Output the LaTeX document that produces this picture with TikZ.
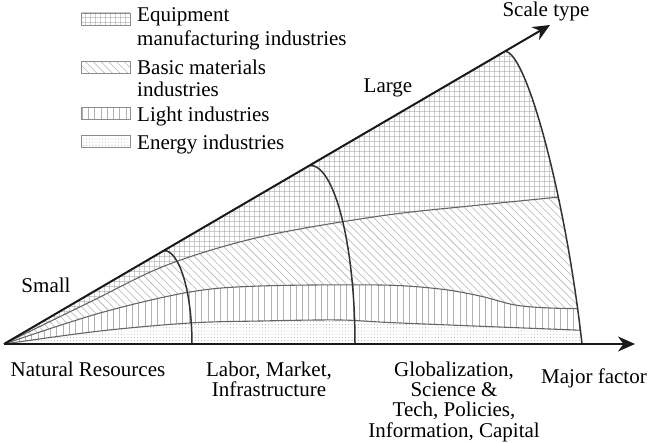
\documentclass[tikz,border=0pt]{standalone}
\usepackage{fontspec}
\setmainfont{Liberation Serif}
\usetikzlibrary{patterns.meta,arrows.meta,calc}
\begin{document}
\begin{tikzpicture}[x=1pt,y=-1pt,
  txt/.style={font=\fontsize{21}{21}\selectfont, inner sep=0pt},
  pEquip/.style={pattern={Hatch[angle=0,distance=5.4pt,line width=0.55pt]}, pattern color=black!30},
  pBasic/.style={pattern={Lines[angle=-45,distance=5.5pt,line width=0.55pt]}, pattern color=black!30},
  pLight/.style={pattern={Lines[angle=90,distance=6.3pt,line width=0.6pt]}, pattern color=black!30},
  pEnergy/.style={pattern={Dots[distance=3.2pt,radius=0.45pt]}, pattern color=black!40},
  bandline/.style={draw=black!60, line width=1.1pt},
  arcline/.style={draw=black!80, line width=1.5pt},
  axisline/.style={draw=black!90, line width=2pt, -{Stealth[length=17pt,width=15pt]}},
  legbox/.style={draw=black!45, line width=0.6pt, minimum width=49pt, minimum height=12pt, inner sep=0pt}
]
\useasboundingbox (0,0) rectangle (650,443);

\coordinate (O) at (4,344);
\coordinate (Y) at (550,25);
\coordinate (X) at (635,344);
\coordinate (T1) at ($(O)!0.293!(Y)$);
\coordinate (T2) at ($(O)!0.5604!(Y)$);
\coordinate (T3) at ($(O)!0.9176!(Y)$);
\coordinate (B1) at (192,344);
\coordinate (B2) at (355,344);
\coordinate (B3) at (582,344);

% bands
\begin{scope}
\clip (O) -- (T3) .. controls (527,52) and (566,200) .. (B3) -- cycle;
\fill[white] (0,0) rectangle (650,443);
\fill[pEquip] (0,0) rectangle (650,443);
\fill[white] plot[smooth,tension=0.55] coordinates {(4,344) (90,302) (167,265) (260,237) (380,216) (480,205) (600,193)} -- (600,344) -- cycle;
\fill[pBasic] plot[smooth,tension=0.55] coordinates {(4,344) (90,302) (167,265) (260,237) (380,216) (480,205) (600,193)} -- (600,344) -- cycle;
\fill[white] plot[smooth,tension=0.55] coordinates {(4,344) (100,313) (190,292) (260,286) (380,285) (440,289) (480,296) (515,305) (550,308) (600,309)} -- (600,344) -- cycle;
\fill[pLight] plot[smooth,tension=0.55] coordinates {(4,344) (100,313) (190,292) (260,286) (380,285) (440,289) (480,296) (515,305) (550,308) (600,309)} -- (600,344) -- cycle;
\fill[white] plot[smooth,tension=0.55] coordinates {(4,344) (100,331) (190,323) (260,321) (340,320) (400,323) (600,331)} -- (600,344) -- cycle;
\fill[pEnergy] plot[smooth,tension=0.55] coordinates {(4,344) (100,331) (190,323) (260,321) (340,320) (400,323) (600,331)} -- (600,344) -- cycle;
\draw[bandline] plot[smooth,tension=0.55] coordinates {(4,344) (90,302) (167,265) (260,237) (380,216) (480,205) (600,193)};
\draw[bandline] plot[smooth,tension=0.55] coordinates {(4,344) (100,313) (190,292) (260,286) (380,285) (440,289) (480,296) (515,305) (550,308) (600,309)};
\draw[bandline] plot[smooth,tension=0.55] coordinates {(4,344) (100,331) (190,323) (260,321) (340,320) (400,323) (600,331)};
\end{scope}

% arcs
\draw[arcline] (T1) .. controls (179.5,250.5) and (192,292.4) .. (B1);
\draw[arcline] (T2) .. controls (334.8,165.2) and (355,245.3) .. (B2);
\draw[arcline] (T3) .. controls (527,52) and (566,200) .. (B3);

% axes
\draw[axisline] (O) -- (X);
\draw[axisline] (O) -- (Y);

% legend
\node[legbox,pEquip] (k1) at (105.5,19) {};
\node[legbox,pBasic] (k2) at (105.5,67.5) {};
\node[legbox,pLight] (k3) at (105.5,113.5) {};
\node[legbox,pEnergy] (k4) at (105.5,141.5) {};
\node[txt,anchor=base west] (t1a) at (137,22) {Equipment};
\node[txt,anchor=base west] (t1b) at (137,46) {manufacturing industries};
\node[txt,anchor=base west] (t2a) at (137,75) {Basic materials};
\node[txt,anchor=base west] (t2b) at (137,97) {industries};
\node[txt,anchor=base west] (t3) at (137,122) {Light industries};
\node[txt,anchor=base west] (t4) at (137,150) {Energy industries};

% labels
\node[txt,anchor=base] (st) at (546,17) {Scale type};
\node[txt,anchor=base] (lg) at (388,93) {Large};
\node[txt,anchor=base] (sm) at (46,293) {Small};
\node[txt,anchor=base] (nr) at (88,376) {Natural Resources};
\node[txt,anchor=base] (lm1) at (269,376) {Labor, Market,};
\node[txt,anchor=base] (lm2) at (269,396) {Infrastructure};
\node[txt,anchor=base] (g1) at (454,376) {Globalization,};
\node[txt,anchor=base] (g2) at (454,396) {Science \&};
\node[txt,anchor=base] (g3) at (454,416) {Tech, Policies,};
\node[txt,anchor=base] (g4) at (454,437) {Information, Capital};
\node[txt,anchor=base] (mf) at (594,383) {Major factor};
\end{tikzpicture}
\end{document}
